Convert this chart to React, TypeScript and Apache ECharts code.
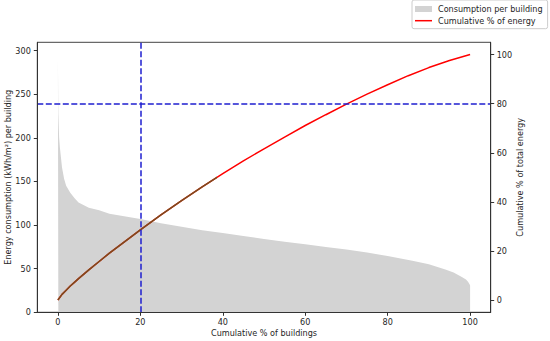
import React, { useEffect, useRef } from "react";
import * as echarts from "echarts";

// Gray area: energy consumption per building (kWh/m²), sorted descending
const buildingPct = [0, 0.1, 0.3, 0.5, 1, 1.5, 2, 3, 4, 5, 7.5, 10, 12.5, 15, 20, 25, 30, 35, 40, 45, 50, 55, 60, 65, 70, 75, 80, 86, 90, 94, 96, 98, 99, 99.5, 100];
const consumption = [294, 228, 200, 188, 166, 153, 145, 137, 131, 126, 120, 117, 113, 111, 107, 102, 98, 94, 91, 87.5, 84, 81, 78, 75, 72, 68.5, 64.5, 59, 55, 49, 45.5, 40.5, 37.5, 35, 31];

// Red line: cumulative % of total energy
const cumBuildingPct = [0, 1, 2, 3, 4, 5, 7.5, 10, 12.5, 15, 20, 25, 30, 35, 40, 45, 50, 55, 60, 65, 70, 75, 80, 85, 90, 95, 100];
const cumEnergyPct = [0, 2.3, 4.0, 5.7, 7.2, 8.7, 12.3, 15.7, 19.1, 22.3, 28.6, 34.7, 40.5, 46.1, 51.5, 56.7, 61.6, 66.4, 71.1, 75.5, 79.8, 83.9, 87.7, 91.4, 94.7, 97.6, 100];

const xTicks = [0, 20, 40, 60, 80, 100];
const leftTicks = [0, 50, 100, 150, 200, 250, 300];
const rightTicks = [0, 20, 40, 60, 80, 100];

const refX = 20;
const refY = 80;

const FONT = "DejaVu Sans";
const TXT = "#262626";
const FS = 8.1;

export default function App() {
  const ref = useRef<HTMLDivElement>(null);
  useEffect(() => {
    if (!ref.current) return;
    const chart = echarts.init(ref.current, null, { renderer: "svg" });
    const consData = buildingPct.map((x, i) => [x, consumption[i]]);
    const cumData = cumBuildingPct.map((x, i) => [x, cumEnergyPct[i]]);
    const axisLineStyle = { color: "#333", width: 1 };
    const labelStyle = { fontSize: FS, color: TXT, fontFamily: FONT };
    const option: any = {
      animation: false,
      textStyle: { fontFamily: FONT },
      grid: {
        left: 37.3,
        right: 59.3,
        top: 42.3,
        bottom: 28.7,
        show: true,
        borderColor: "#444",
        borderWidth: 1,
        backgroundColor: "transparent",
        outerBoundsMode: "none",
        containLabel: false,
      },
      legend: {
        orient: "vertical",
        left: 412,
        top: 0,
        padding: [4, 5, 3, 3],
        itemWidth: 17,
        itemHeight: 6,
        itemGap: 1.7,
        backgroundColor: "rgba(255,255,255,0.8)",
        borderColor: "#cccccc",
        borderWidth: 1,
        borderRadius: 2,
        textStyle: { fontSize: FS, color: TXT, fontFamily: FONT, lineHeight: 10, padding: [0, 0, 0, 1] },
        data: [
          { name: "Consumption per building", icon: "rect", itemStyle: { color: "#d3d3d3" } },
          {
            name: "Cumulative % of energy",
            icon: "path://M0,0 L17,0 L17,1.5 L0,1.5 Z",
            itemStyle: { color: "#ff0000" },
          },
        ],
      },
      xAxis: {
        type: "value",
        min: -5,
        max: 105,
        z: 5,
        name: "Cumulative % of buildings",
        nameLocation: "middle",
        nameGap: 16.5,
        nameMoveOverlap: false,
        nameTextStyle: labelStyle,
        axisLine: { show: true, onZero: false, lineStyle: axisLineStyle },
        axisTick: { show: true, length: 3.5, customValues: xTicks, lineStyle: axisLineStyle },
        axisLabel: { customValues: xTicks, margin: 5.5, ...labelStyle },
        splitLine: { show: false },
      },
      yAxis: [
        {
          type: "value",
          position: "left",
          min: 0,
          max: 309.6,
          z: 5,
          name: "Energy consumption (kWh/m²) per building",
          nameLocation: "middle",
          nameRotate: 90,
          nameGap: 25,
          nameMoveOverlap: false,
          nameTextStyle: labelStyle,
          axisLine: { show: true, onZero: false, lineStyle: axisLineStyle },
          axisTick: { show: true, length: 3.5, customValues: leftTicks, lineStyle: axisLineStyle },
          axisLabel: { customValues: leftTicks, margin: 6.5, ...labelStyle },
          splitLine: { show: false },
        },
        {
          type: "value",
          position: "right",
          min: -5,
          max: 105,
          z: 5,
          name: "Cumulative % of total energy",
          nameLocation: "middle",
          nameRotate: 90,
          nameGap: 25.5,
          nameMoveOverlap: false,
          nameTextStyle: labelStyle,
          axisLine: { show: true, onZero: false, lineStyle: axisLineStyle },
          axisTick: { show: true, length: 3.5, customValues: rightTicks, lineStyle: axisLineStyle },
          axisLabel: { customValues: rightTicks, margin: 6, ...labelStyle },
          splitLine: { show: false },
        },
      ],
      series: [
        {
          type: "line",
          name: "Consumption per building",
          data: consData,
          yAxisIndex: 0,
          symbol: "none",
          lineStyle: { width: 0, color: "#d3d3d3" },
          itemStyle: { color: "#d3d3d3" },
          areaStyle: { color: "#d3d3d3", opacity: 1 },
          z: 1,
          silent: true,
        },
        {
          type: "line",
          name: "Cumulative % of energy",
          data: cumData,
          yAxisIndex: 1,
          symbol: "none",
          lineStyle: { color: "#ff0000", width: 1.5 },
          itemStyle: { color: "#ff0000" },
          z: 3,
          silent: true,
          markLine: {
            silent: true,
            symbol: ["none", "none"],
            label: { show: false },
            lineStyle: { color: "#1f1fd0", type: [6, 2.5], width: 1.5 },
            data: [{ xAxis: refX }, { yAxis: refY }],
          },
        },
        {
          type: "line",
          name: "overlay",
          data: cumData,
          yAxisIndex: 1,
          symbol: "none",
          silent: true,
          z: 4,
          lineStyle: {
            width: 1.5,
            color: new echarts.graphic.LinearGradient(0, 0, 1, 0, [
              { offset: 0, color: "#7a4d1e" },
              { offset: 0.385, color: "#7a4d1e" },
              { offset: 0.385, color: "rgba(122,77,30,0)" },
              { offset: 1, color: "rgba(122,77,30,0)" },
            ]),
          },
        },
      ],
    };
    chart.setOption(option);
    return () => chart.dispose();
  }, []);
  return (
    <div
      ref={ref}
      style={{ position: "fixed", left: 0, top: 0, width: 550, height: 341, background: "#fff" }}
    />
  );
}
